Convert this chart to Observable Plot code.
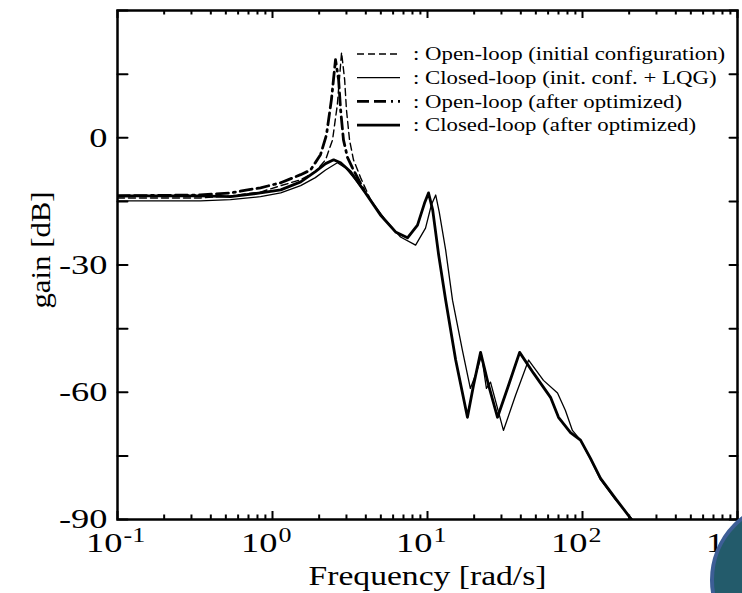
<!DOCTYPE html>
<html>
<head>
<meta charset="utf-8">
<script src="https://cdn.jsdelivr.net/npm/d3@7"></script>
<script src="https://cdn.jsdelivr.net/npm/@observablehq/plot@0.6"></script>
<style>
  html, body { margin: 0; padding: 0; background: #fff; }
  #wrap { position: relative; width: 742px; height: 593px; overflow: hidden; background: #fff; }
  #wrap svg { position: absolute; left: 0; top: 0; }
  #blob { position: absolute; left: 710px; top: 500px; width: 160px; height: 160px; box-sizing: border-box;
          border-radius: 50%; background: #235b6b; border: 4px solid #3d5e96; }
</style>
</head>
<body>
<div id="wrap"></div>
<script>
// ---- data ----
const seriesNames = [
  ": Open-loop (initial configuration)",
  ": Closed-loop (init. conf. + LQG)",
  ": Open-loop (after optimized)",
  ": Closed-loop (after optimized)"
];

// Open-loop, initial configuration
const freqOLinit = [0.1, 0.343, 0.536, 0.837, 1.13, 1.52, 1.89, 2.20, 2.44, 2.62, 2.79, 2.92, 3.00, 3.14, 3.33, 3.70, 4.29];
const gainOLinit = [-14.2, -14.2, -13.7, -12.8, -11.3, -9.9, -8.0, -5.2, -0.5, 7.8, 20.1, 13.7, 6.6, -0.5, -5.2, -9.4, -14.6];

// Closed-loop, init. conf. + LQG
const freqCLinit = [0.1, 0.343, 0.536, 0.837, 1.13, 1.52, 1.89, 2.20, 2.62, 2.96, 3.43, 4.29, 5.36, 6.70, 8.38, 9.71, 10.6, 11.3, 11.9, 13.1, 14.5, 16.8, 18.9, 20.7, 22.3, 24.0, 25.5, 30.9, 37.0, 44.9, 56.0, 69.0, 77.6, 86.1, 97.1, 112.6, 130.7, 163, 210, 228];
const gainCLinit = [-14.9, -14.9, -14.6, -13.9, -13.0, -11.3, -9.4, -7.6, -5.9, -7.1, -9.9, -14.6, -19.4, -23.4, -25.3, -21.3, -15.8, -13.5, -17.5, -26.5, -38.3, -50.1, -59.1, -55.3, -51.3, -59.1, -57.6, -69.0, -60.7, -52.4, -57.2, -60.2, -64.3, -69.0, -71.3, -75.8, -80.6, -85.3, -90.0, -92.0];

// Open-loop, after optimized
const freqOLopt = [0.1, 0.343, 0.536, 0.837, 1.13, 1.52, 1.76, 2.04, 2.23, 2.40, 2.55, 2.67, 2.75, 2.87, 3.05, 3.28, 3.98];
const gainOLopt = [-13.7, -13.5, -13.0, -11.8, -10.6, -8.7, -7.6, -4.0, 0.7, 9.0, 18.4, 13.7, 6.6, -0.5, -4.7, -7.1, -13.0];

// Closed-loop, after optimized
const freqCLopt = [0.1, 0.343, 0.536, 0.837, 1.13, 1.52, 1.89, 2.20, 2.48, 2.75, 3.19, 3.98, 4.97, 6.22, 7.43, 8.62, 9.57, 10.15, 10.8, 11.8, 13.1, 15.2, 18.1, 19.8, 22.0, 24.8, 28.3, 33.3, 39.3, 48.3, 62.2, 70.0, 83.7, 97.1, 112.6, 130.7, 163, 207, 225];
const gainCLopt = [-13.7, -13.7, -13.9, -13.0, -12.3, -10.4, -8.0, -6.1, -5.2, -5.9, -8.0, -13.0, -18.2, -22.2, -23.6, -20.6, -15.4, -13.0, -17.0, -27.6, -38.3, -52.4, -65.9, -58.4, -50.6, -58.4, -65.9, -58.4, -50.6, -55.5, -61.2, -65.9, -69.5, -71.3, -75.6, -80.3, -85.0, -90.0, -92.0];

// axes
const xTickValues = [0.1, 1, 10, 100, 1000];
const xTickExponents = ["-1", "0", "1", "2", "3"];
const yTickValues = [-90, -60, -30, 0];
const yMinorValues = [-90, -75, -60, -45, -30, -15, 0, 15, 30];
const xMinorValues = [0.2,0.3,0.4,0.5,0.6,0.7,0.8,0.9, 2,3,4,5,6,7,8,9, 20,30,40,50,60,70,80,90, 200,300,400,500,600,700,800,900];
const xLabel = "Frequency [rad/s]";
const yLabel = "gain [dB]";

// ---- build ----
const W = 742, H = 593, ML = 117, MR = 5, MT = 10, MB = 74;
const frameH = H - MT - MB;
const rows = (f, g) => f.map((d, i) => ({f: d, g: g[i]}));
const styles = [
  {stroke: "#000", strokeWidth: 1.4, strokeDasharray: "7,4"},
  {stroke: "#000", strokeWidth: 1.3},
  {stroke: "#000", strokeWidth: 2.8, strokeDasharray: "12,5,12,5,2,5"},
  {stroke: "#000", strokeWidth: 2.8}
];
const tickShape = {draw(ctx, l) { ctx.moveTo(0, 0); ctx.lineTo(0, -l); }};
const yTicks = (data, anchor, rotate, len) =>
  Plot.vector(data, {y: d => d, frameAnchor: anchor, rotate, length: len, anchor: "start",
    shape: tickShape, stroke: "#000", strokeWidth: 2});
const xTicks = (data, where, len) =>
  Plot.ruleX(data, {x: d => d, stroke: "#000", strokeWidth: 2,
    ...(where === "bottom" ? {insetTop: frameH - len} : {insetBottom: frameH - len})});

const chart = Plot.plot({
  width: W, height: H,
  marginLeft: ML, marginRight: MR, marginTop: MT, marginBottom: MB,
  x: {type: "log", domain: [0.1, 1000], axis: null},
  y: {domain: [-90, 30], axis: null},
  style: {fontFamily: "'Liberation Serif', 'Times New Roman', serif", fontSize: "28px", color: "#000", background: "transparent"},
  marks: [
    Plot.line(rows(freqCLinit, gainCLinit), {x: "f", y: "g", ...styles[1], clip: true}),
    Plot.line(rows(freqCLopt, gainCLopt), {x: "f", y: "g", ...styles[3], clip: true}),
    Plot.line(rows(freqOLinit, gainOLinit), {x: "f", y: "g", ...styles[0], clip: true}),
    Plot.line(rows(freqOLopt, gainOLopt), {x: "f", y: "g", ...styles[2], clip: true}),
    Plot.frame({stroke: "#000", strokeWidth: 2.5}),
    xTicks(xTickValues, "bottom", 8),
    xTicks(xMinorValues, "bottom", 4.5),
    xTicks(xTickValues, "top", 8),
    xTicks(xMinorValues, "top", 4.5),
    yTicks(yMinorValues, "left", 90, 10),
    yTicks(yMinorValues, "right", 270, 8),
    Plot.text(yTickValues, {y: d => d, frameAnchor: "left", text: d => String(d), textAnchor: "end", lineAnchor: "middle", dx: -10, fontSize: 28}),
    Plot.text(xTickValues, {x: d => d, frameAnchor: "bottom", text: () => "10", textAnchor: "end", lineAnchor: "middle", dx: 5, dy: 24, fontSize: 28}),
    Plot.text(xTickValues, {x: d => d, frameAnchor: "bottom", text: (d, i) => xTickExponents[i], textAnchor: "start", lineAnchor: "middle", dx: 6, dy: 16, fontSize: 20}),
    Plot.text([xLabel], {frameAnchor: "bottom", textAnchor: "middle", lineAnchor: "middle", dy: 57, fontSize: 28}),
    Plot.text([yLabel], {frameAnchor: "left", textAnchor: "middle", lineAnchor: "middle", dx: -76, dy: -15, rotate: -90, fontSize: 28})
  ]
});
const wrap = document.getElementById("wrap");
wrap.appendChild(chart);

// legend overlay
const lsvg = d3.select(wrap).append("svg").attr("width", W).attr("height", H)
  .style("font-family", "'Liberation Serif', 'Times New Roman', serif");
seriesNames.forEach((name, i) => {
  const y = 54 + i * 23.7;
  const s = styles[i];
  lsvg.append("line").attr("x1", 357).attr("x2", 400).attr("y1", y).attr("y2", y)
    .attr("stroke", s.stroke).attr("stroke-width", s.strokeWidth)
    .attr("stroke-dasharray", s.strokeDasharray || null);
  lsvg.append("text").attr("x", 413).attr("y", y).attr("dy", "0.33em")
    .attr("font-size", 19).attr("fill", "#000").text(name);
});

// horizontal stretch to imitate the scanned figure's wide lettering
function stretch(el, k) {
  const len = el.getComputedTextLength();
  if (len > 0) {
    el.setAttribute("textLength", (len * k).toFixed(1));
    el.setAttribute("lengthAdjust", "spacingAndGlyphs");
  }
}
d3.select(chart).selectAll("text").each(function() {
  const t = this.textContent;
  const k = t === yLabel ? 1.1 : t === xLabel ? 1.2 : 1.3;
  stretch(this, k);
});
lsvg.selectAll("text").each(function() { stretch(this, 1.2); });

const blob = document.createElement("div");
blob.id = "blob";
wrap.appendChild(blob);
</script>
</body>
</html>
